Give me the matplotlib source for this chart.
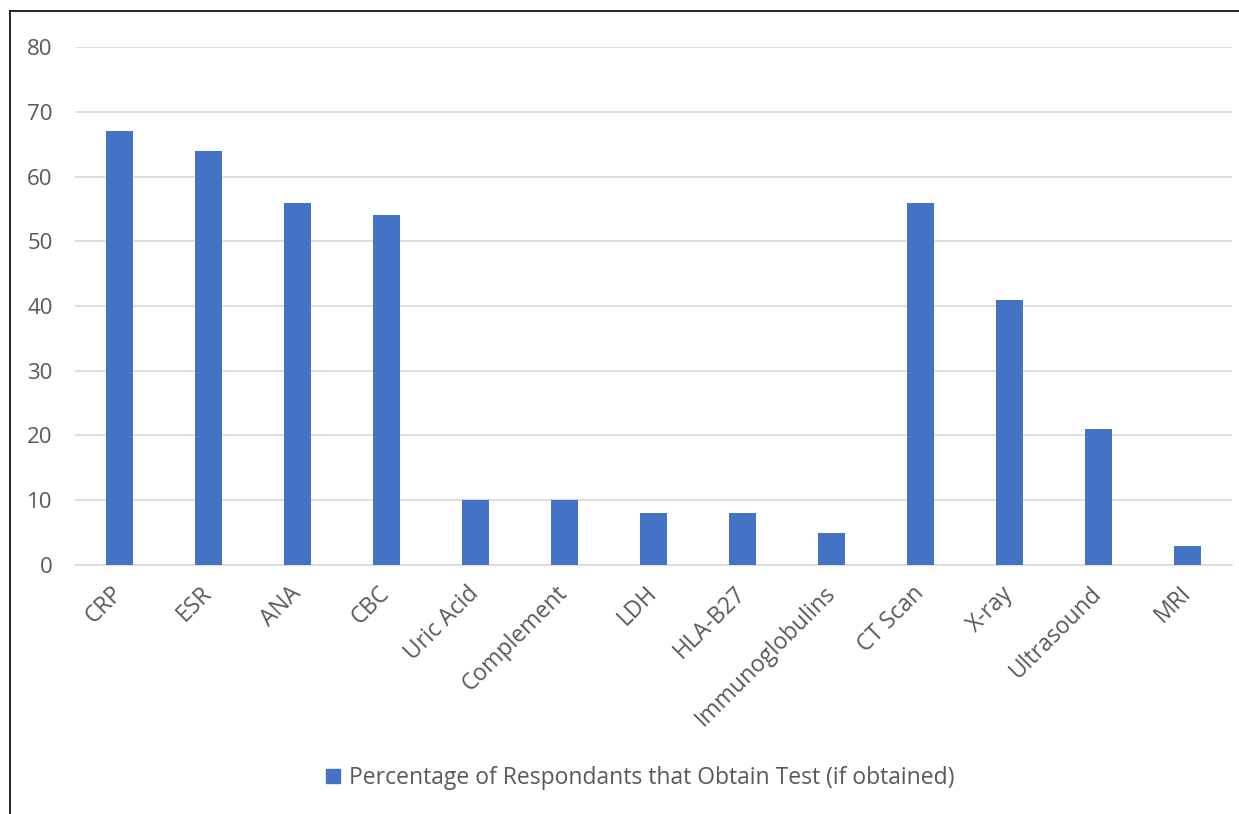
import matplotlib
matplotlib.use("Agg")
import matplotlib.pyplot as plt
from matplotlib.lines import Line2D
from matplotlib.patches import Patch

categories = ["CRP", "ESR", "ANA", "CBC", "Uric Acid", "Complement", "LDH",
              "HLA-B27", "Immunoglobulins", "CT Scan", "X-ray", "Ultrasound", "MRI"]
values = [67, 64, 56, 54, 10, 10, 8, 8, 5, 56, 41, 21, 3]
series_label = "Percentage of Respondants that Obtain Test (if obtained)"

bar_color = "#4472C4"
text_color = "#595959"
plt.rcParams["font.family"] = ["Open Sans", "DejaVu Sans"]

fig = plt.figure(figsize=(12.39, 8.14), dpi=100)
ax = fig.add_axes([0.0605, 0.306, 0.934, 0.636])

x = range(len(categories))
ax.bar(x, values, width=0.31, color=bar_color, zorder=3)
ax.set_xlim(-0.5, len(categories) - 0.5)
ax.set_ylim(0, 80)
ax.set_yticks(range(0, 81, 10))
ax.set_xticks(list(x))
ax.set_xticklabels(categories, rotation=45, ha="right", va="center",
                   rotation_mode="anchor", fontsize=16.5)
ax.tick_params(axis="both", length=0, labelcolor=text_color)
ax.tick_params(axis="y", labelsize=16, pad=16)
ax.tick_params(axis="x", pad=18)
ax.grid(axis="y", color="#D9D9D9", linewidth=1.2, zorder=0)
for s in ["top", "right", "left"]:
    ax.spines[s].set_visible(False)
ax.spines["bottom"].set_color("#D9D9D9")
ax.spines["bottom"].set_linewidth(1.2)

fig.legend(handles=[Patch(color=bar_color, label=series_label)],
           loc="center", bbox_to_anchor=(0.517, 0.044), frameon=False,
           fontsize=16.5, labelcolor=text_color, handlelength=0.6,
           handleheight=0.6, handletextpad=0.4)

# outer chart border (left and top edges visible)
fig.add_artist(Line2D([0.008, 0.008], [0, 0.9865], color="black", linewidth=1.2,
                      transform=fig.transFigure))
fig.add_artist(Line2D([0.008, 1.0], [0.9865, 0.9865], color="black", linewidth=1.2,
                      transform=fig.transFigure))

fig.savefig("out.png", dpi=100)
